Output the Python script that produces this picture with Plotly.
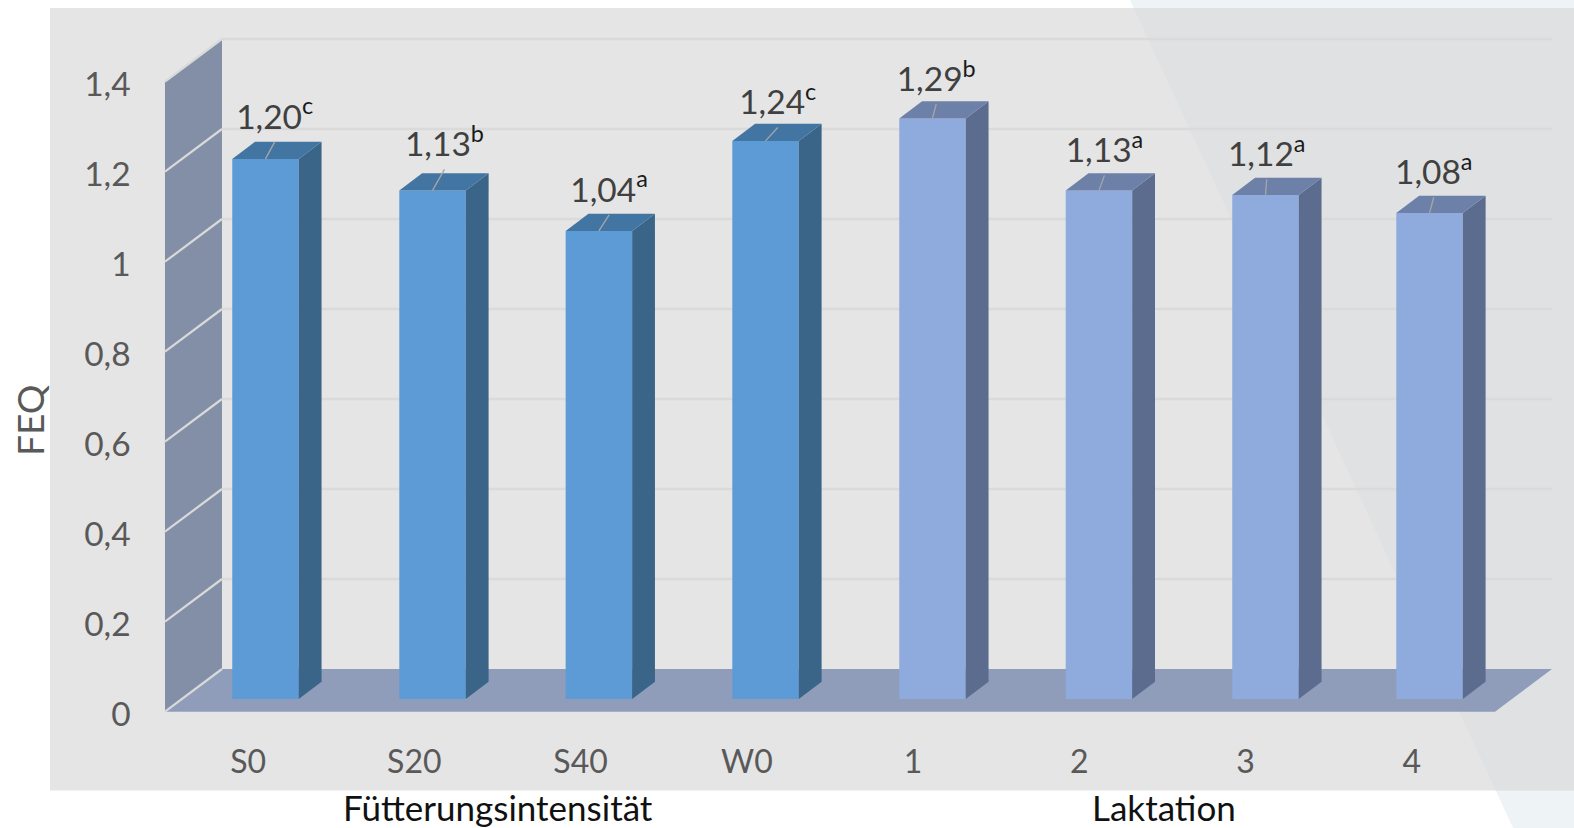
import plotly.graph_objects as go

# Feed conversion values by feeding intensity and lactation
categories = ["S0", "S20", "S40", "W0", "1", "2", "3", "4"]
feq_values = [1.20, 1.13, 1.04, 1.24, 1.29, 1.13, 1.12, 1.08]
significance = ["c", "b", "a", "c", "b", "a", "a", "a"]
y_ticks = [0, 0.2, 0.4, 0.6, 0.8, 1, 1.2, 1.4]
y_tick_labels = ["0", "0,2", "0,4", "0,6", "0,8", "1", "1,2", "1,4"]
group_names = ["Fütterungsintensität", "Laktation"]

# Fine placement of columns and their labels, in pixels
bar_nudge = [0.3, 1.1, 1.2, 1.6, 2.3, 2.5, 2.8, 0.6]
label_shift_x = [9.2, 11.9, 10.2, 12.2, 3.7, 5.5, 1.2, 4.2]
label_lift = [31, 35, 30, 27.4, 28.4, 29, 29.5, 29.6]

W, H = 1574, 828
X_UNIT, Y_UNIT = 166.25, 450.0
X_ZERO_PX, Y_ZERO_PX = 248.1, 711.7
DEPTH_X, DEPTH_Y = 57 / X_UNIT, 42.7 / Y_UNIT
BAR_WIDTH = 66.5 / X_UNIT
NEAR, FAR = 0.3, 0.7   # depth slice occupied by the columns

FRONT_L, FRONT_R = -0.5, 7.5
x_range = [-0.55, FRONT_R + DEPTH_X + 0.02]
y_range = [-0.01, 1.4 + DEPTH_Y + 0.01]


def px_x(x):
    return (X_ZERO_PX + x * X_UNIT) / W


def px_y(y):
    return 1 - (Y_ZERO_PX - y * Y_UNIT) / H


def paper_path(points):
    return "M" + " L".join(f"{x / W:.5f},{1 - y / H:.5f}" for x, y in points) + " Z"


def data_path(points):
    return "M" + " L".join(f"{x:.5f},{y:.5f}" for x, y in points) + " Z"


# Slanted page backdrop
def diag(y):
    return 1130 + 0.4626 * y


PANEL = (50, 8, W, 790.5)
shapes = [
    dict(type="path", xref="paper", yref="paper", layer="below", line_width=0,
         fillcolor="#EEF3F6",
         path=paper_path([(diag(0), 0), (W, 0), (W, H), (diag(H), H)])),
    dict(type="rect", xref="paper", yref="paper", layer="below", line_width=0,
         fillcolor="#E5E5E5", x0=PANEL[0] / W, x1=1, y0=1 - PANEL[3] / H, y1=1 - PANEL[1] / H),
    dict(type="path", xref="paper", yref="paper", layer="below", line_width=0,
         fillcolor="#E0E1E3",
         path=paper_path([(diag(PANEL[1]), PANEL[1]), (W, PANEL[1]), (W, PANEL[3]), (diag(PANEL[3]), PANEL[3])])),
]

# Side wall and floor of the chart box
shapes.append(dict(type="path", layer="below", line_width=0, fillcolor="#828FA6",
                   path=data_path([(FRONT_L, 0), (FRONT_L + DEPTH_X, DEPTH_Y),
                                   (FRONT_L + DEPTH_X, 1.4 + DEPTH_Y), (FRONT_L, 1.4)])))
shapes.append(dict(type="path", layer="below", line_width=0, fillcolor="#8F9DBA",
                   path=data_path([(FRONT_L, 0), (FRONT_R, 0),
                                   (FRONT_R + DEPTH_X, DEPTH_Y), (FRONT_L + DEPTH_X, DEPTH_Y)])))

# Gridlines run along the wall and across the back plane
for v in y_ticks:
    shapes.append(dict(type="line", layer="below", x0=FRONT_L, y0=v,
                       x1=FRONT_L + DEPTH_X, y1=v + DEPTH_Y,
                       line=dict(color="#D9D9D9", width=2.2)))
    if v > 0:
        shapes.append(dict(type="line", layer="below", x0=FRONT_L + DEPTH_X, y0=v + DEPTH_Y,
                           x1=FRONT_R + DEPTH_X, y1=v + DEPTH_Y,
                           line=dict(color="#DADADA", width=2.4)))

FRONT_COLORS = ["#5D9BD7"] * 4 + ["#8FAADC"] * 4
SIDE_COLORS = ["#3A6589"] * 4 + ["#5C6C8E"] * 4
TOP_COLORS = ["#4375A2"] * 4 + ["#6C80A8"] * 4

fig = go.Figure()

base = NEAR * DEPTH_Y
centers = [i + NEAR * DEPTH_X + n / X_UNIT for i, n in enumerate(bar_nudge)]

fig.add_trace(go.Bar(x=centers, y=feq_values, base=base, width=BAR_WIDTH,
                     marker=dict(color=FRONT_COLORS, line_width=0), showlegend=False,
                     hoverinfo="skip"))

span = (FAR - NEAR)
for c, v, side, top in zip(centers, feq_values, SIDE_COLORS, TOP_COLORS):
    right = c + BAR_WIDTH / 2
    left = c - BAR_WIDTH / 2
    ax, ay = span * DEPTH_X, span * DEPTH_Y
    fig.add_trace(go.Scatter(
        x=[right, right + ax, right + ax, right, right],
        y=[base, base + ay, base + v + ay, base + v, base],
        mode="lines", fill="toself", fillcolor=side, line=dict(width=0),
        showlegend=False, hoverinfo="skip"))
    fig.add_trace(go.Scatter(
        x=[left, right, right + ax, left + ax, left],
        y=[base + v, base + v, base + v + ay, base + v + ay, base + v],
        mode="lines", fill="toself", fillcolor=top, line=dict(width=0),
        showlegend=False, hoverinfo="skip"))

# Value labels with their leader lines
label_x = [c + dx / X_UNIT for c, dx in zip(centers, label_shift_x)]
label_y = [base + v + lift / Y_UNIT for v, lift in zip(feq_values, label_lift)]
for c, v, lx, ly in zip(centers, feq_values, label_x, label_y):
    fig.add_trace(go.Scatter(x=[c, lx], y=[base + v, ly - 14 / Y_UNIT], mode="lines",
                             line=dict(color="#A6A6A6", width=1.3),
                             showlegend=False, hoverinfo="skip"))

label_text = [
    f"{v:.2f}".replace(".", ",") + f'<span style="color:#1a1a1a"><sup>{s}</sup></span>'
    for v, s in zip(feq_values, significance)
]
fig.add_trace(go.Scatter(x=label_x, y=[y - 9 / Y_UNIT for y in label_y], mode="text", text=label_text,
                         textposition="top center", cliponaxis=False,
                         textfont=dict(family="Lato", size=33.5, color="#404040"),
                         showlegend=False, hoverinfo="skip"))

annotations = [
    dict(text="FEQ", x=29 / W, y=1 - 420 / H, xref="paper", yref="paper", textangle=-90,
         xanchor="center", yanchor="middle", showarrow=False,
         font=dict(family="Lato", size=37, color="#595959")),
    dict(text=group_names[0], x=498 / W, y=1 - 807 / H, xref="paper", yref="paper",
         xanchor="center", yanchor="middle", showarrow=False,
         font=dict(family="Lato", size=35, color="#111111")),
    dict(text=group_names[1], x=1164 / W, y=1 - 807 / H, xref="paper", yref="paper",
         xanchor="center", yanchor="middle", showarrow=False,
         font=dict(family="Lato", size=35, color="#111111")),
]

fig.update_layout(
    width=W, height=H, margin=dict(l=0, r=0, t=0, b=0, autoexpand=False),
    paper_bgcolor="#FFFFFF", plot_bgcolor="rgba(0,0,0,0)",
    shapes=shapes, annotations=annotations, showlegend=False,
    xaxis=dict(range=x_range, domain=[px_x(x_range[0]), px_x(x_range[1])],
               tickmode="array", tickvals=list(range(len(categories))), ticktext=categories,
               showgrid=False, zeroline=False, showline=False, ticks="",
               ticklabelstandoff=24,
               tickfont=dict(family="Lato", size=32, color="#595959"), fixedrange=True),
    yaxis=dict(range=y_range, domain=[px_y(y_range[0]), px_y(y_range[1])],
               tickmode="array", tickvals=y_ticks, ticktext=y_tick_labels,
               showgrid=False, zeroline=False, showline=False, ticks="",
               ticklabelstandoff=25, ticklabelshift=3,
               tickfont=dict(family="Lato", size=33.5, color="#595959"), fixedrange=True),
)

fig.write_html("out.html", config=dict(displayModeBar=False))
